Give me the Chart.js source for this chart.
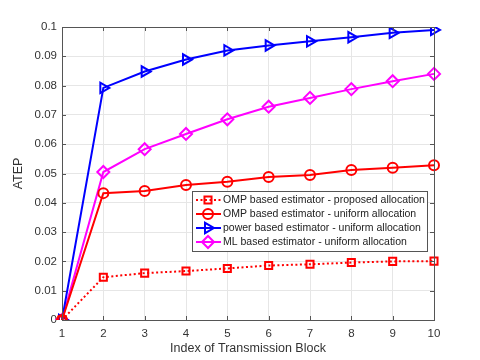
<!DOCTYPE html>
<html>
<head>
<meta charset="utf-8">
<script src="https://cdn.jsdelivr.net/npm/chart.js@4.4.1/dist/chart.umd.min.js"></script>
<style>
  html, body { margin: 0; padding: 0; background: #fff; }
  #wrap { width: 480px; height: 360px; }
</style>
</head>
<body>
<div id="wrap"><canvas id="ateps"></canvas></div>
<script>
// data
const blocks = ['1', '2', '3', '4', '5', '6', '7', '8', '9', '10'];
const ompProposed = [0, 0.0146, 0.0160, 0.0167, 0.0176, 0.0186, 0.0190, 0.0196, 0.0200, 0.0201];
const ompUniform = [0, 0.0433, 0.0440, 0.0461, 0.0472, 0.0488, 0.0495, 0.0512, 0.0520, 0.0528];
const powerUniform = [0, 0.0792, 0.0848, 0.0889, 0.0920, 0.0937, 0.0951, 0.0965, 0.0980, 0.0990];
const mlUniform = [0, 0.0505, 0.0583, 0.0635, 0.0685, 0.0728, 0.0758, 0.0788, 0.0815, 0.0840];
const yTicks = [0, 0.01, 0.02, 0.03, 0.04, 0.05, 0.06, 0.07, 0.08, 0.09, 0.1];
const seriesNames = [
    'OMP based estimator - proposed allocation',
    'OMP based estimator - uniform allocation',
    'power based estimator - uniform allocation',
    'ML based estimator - uniform allocation'
];

const FONT = "'Liberation Sans', Arial, sans-serif";
const AXIS = '#555555';

// MATLAB style box + inward ticks + legend inside the axes
const matlabBox = {
    id: 'matlabBox',
    afterDatasetsDraw(chart) {
        const { ctx, chartArea: a, scales } = chart;
        ctx.save();
        ctx.strokeStyle = AXIS;
        ctx.lineWidth = 1;
        ctx.strokeRect(a.left + 0.5, a.top + 0.5, a.right - a.left, a.bottom - a.top);
        // inward ticks
        ctx.beginPath();
        blocks.forEach((b, i) => {
            const x = Math.round(scales.x.getPixelForValue(i)) + 0.5;
            ctx.moveTo(x, a.bottom); ctx.lineTo(x, a.bottom - 4);
            ctx.moveTo(x, a.top); ctx.lineTo(x, a.top + 4);
        });
        yTicks.forEach(v => {
            const y = Math.round(scales.y.getPixelForValue(v)) + 0.5;
            ctx.moveTo(a.left, y); ctx.lineTo(a.left + 4, y);
            ctx.moveTo(a.right, y); ctx.lineTo(a.right - 4, y);
        });
        ctx.stroke();
        ctx.restore();
    },
    afterDraw(chart) {
        const { ctx } = chart;
        const x0 = 192, y0 = 191, w = 235, h = 60;
        ctx.save();
        ctx.fillStyle = '#fff';
        ctx.fillRect(x0, y0, w, h);
        ctx.strokeStyle = AXIS;
        ctx.lineWidth = 1;
        ctx.strokeRect(x0 + 0.5, y0 + 0.5, w, h);
        chart.data.datasets.forEach((ds, i) => {
            const y = y0 + 9 + i * 14;
            ctx.strokeStyle = ds.borderColor;
            ctx.lineWidth = 2;
            ctx.setLineDash(ds.borderDash || []);
            ctx.beginPath();
            ctx.moveTo(x0 + 4, y);
            ctx.lineTo(x0 + 29, y);
            ctx.stroke();
            ctx.setLineDash([]);
            ctx.fillStyle = 'rgba(0,0,0,0)';
            ctx.strokeStyle = ds.borderColor;
            Chart.helpers.drawPoint(ctx, {
                pointStyle: ds.pointStyle,
                rotation: ds.pointRotation || 0,
                radius: ds.pointRadius,
                borderWidth: 2
            }, x0 + 16, y);
            ctx.fillStyle = '#222';
            ctx.font = '10.5px ' + FONT;
            ctx.textBaseline = 'middle';
            ctx.fillText(ds.label, x0 + 31, y + 0.5);
        });
        ctx.restore();
    }
};

const common = {
    borderWidth: 2,
    pointBorderWidth: 2,
    pointBackgroundColor: 'rgba(0,0,0,0)',
    tension: 0
};

new Chart(document.getElementById('ateps'), {
    type: 'line',
    data: {
        labels: blocks,
        datasets: [
            { ...common, label: seriesNames[0], data: ompProposed, borderColor: '#ff0000',
              pointBorderColor: '#ff0000', borderDash: [2, 2.5], pointStyle: 'rect', pointRadius: 5 },
            { ...common, label: seriesNames[1], data: ompUniform, borderColor: '#ff0000',
              pointBorderColor: '#ff0000', pointStyle: 'circle', pointRadius: 5 },
            { ...common, label: seriesNames[2], data: powerUniform, borderColor: '#0000ff',
              pointBorderColor: '#0000ff', pointStyle: 'triangle', pointRotation: 90, pointRadius: 6 },
            { ...common, label: seriesNames[3], data: mlUniform, borderColor: '#ff00ff',
              pointBorderColor: '#ff00ff', pointStyle: 'rectRot', pointRadius: 6 }
        ]
    },
    options: {
        responsive: true,
        maintainAspectRatio: false,
        animation: false,
        layout: { padding: { left: 0, top: 27, right: 46, bottom: 0 } },
        plugins: { legend: { display: false }, tooltip: { enabled: false } },
        scales: {
            x: {
                offset: false,
                grid: { color: '#e6e6e6', tickLength: 0, drawTicks: false },
                border: { display: false },
                ticks: { color: '#333', font: { family: FONT, size: 11.5 }, padding: 7, maxRotation: 0 },
                title: { display: true, text: 'Index of Transmission Block', color: '#333',
                         font: { family: FONT, size: 12.5 }, padding: { top: 0, bottom: 4 } },
                afterFit: s => { s.height = 40; }
            },
            y: {
                min: 0, max: 0.1,
                grid: { color: '#e6e6e6', tickLength: 0, drawTicks: false },
                border: { display: false },
                afterBuildTicks: s => { s.ticks = yTicks.map(v => ({ value: v })); },
                ticks: { color: '#333', font: { family: FONT, size: 11.5 }, padding: 5,
                         callback: v => String(+v.toFixed(2)) },
                title: { display: true, text: 'ATEP', color: '#333',
                         font: { family: FONT, size: 12.5 }, padding: { top: 11, bottom: 0 } },
                afterFit: s => { s.width = 62; }
            }
        }
    },
    plugins: [matlabBox]
});
</script>
</body>
</html>
